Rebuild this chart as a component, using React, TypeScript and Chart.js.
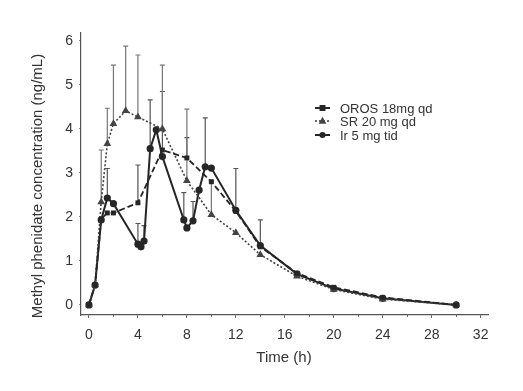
import React, { useEffect, useRef } from "react";
import { Chart, registerables } from "chart.js";

Chart.register(...registerables);

const seriesNames = ["OROS 18mg qd", "SR 20 mg qd", "Ir 5 mg tid"];

const timesOROS = [0, 0.5, 1, 1.5, 2, 4, 6, 8, 10, 12, 14, 17, 20, 24, 30];
const valuesOROS = [0, 0.45, 1.95, 2.09, 2.09, 2.32, 3.52, 3.34, 2.8, 2.13, 1.32, 0.72, 0.4, 0.17, 0.0];
const errTopOROS = [null, null, null, null, null, 3.18, 4.85, 3.8, null, 3.1, null, null, null, null, null];

const timesSR = [0, 0.5, 1, 1.5, 2, 3, 4, 6, 8, 10, 12, 14, 17, 20, 24, 30];
const valuesSR = [0, 0.45, 2.34, 3.66, 4.12, 4.41, 4.27, 4.0, 2.82, 2.05, 1.64, 1.14, 0.65, 0.35, 0.13, 0];
const errTopSR = [null, null, 3.52, 4.47, 5.45, 5.88, 5.68, 5.45, 4.45, 2.8, null, null, null, null, null, null];

const timesIR = [0, 0.5, 1, 1.5, 2, 4, 4.25, 4.5, 5, 5.5, 6, 7.75, 8, 8.5, 9, 9.5, 10, 12, 14, 17, 20, 24, 30];
const valuesIR = [0, 0.45, 1.93, 2.43, 2.3, 1.38, 1.32, 1.45, 3.55, 3.98, 3.37, 1.93, 1.75, 1.91, 2.61, 3.14, 3.11, 2.15, 1.35, 0.7, 0.37, 0.15, 0];
const errTopIR = [null, null, null, 3.1, null, 1.85, null, 1.8, 4.66, null, null, 2.55, null, 2.35, null, 4.25, null, null, 1.93, null, null, null, null];

const xTicks = [0, 4, 8, 12, 16, 20, 24, 28, 32];
const yTicks = [0, 1, 2, 3, 4, 5, 6];
const xTitle = "Time (h)";
const yTitle = "Methyl phenidate concentration (ng/mL)";

const INK = "#262626";
const FONT = "'Liberation Sans', Arial, sans-serif";

const toPoints = (ts: number[], vs: number[]) => ts.map((t, i) => ({ x: t, y: vs[i] }));

const styles = [
  { dash: [6, 3], shape: "rect", radius: 3.5, width: 1.8, color: INK, errColor: "#555" },
  { dash: [2, 2], shape: "triangle", radius: 4.5, width: 1.6, color: "#444", errColor: "#777" },
  { dash: [], shape: "circle", radius: 3.6, width: 2, color: INK, errColor: "#555" },
];
const errTops = [errTopOROS, errTopSR, errTopIR];

function drawMarker(ctx: CanvasRenderingContext2D, shape: string, x: number, y: number, r: number) {
  ctx.beginPath();
  if (shape === "rect") {
    ctx.rect(x - r, y - r, 2 * r, 2 * r);
  } else if (shape === "triangle") {
    ctx.moveTo(x, y - r * 1.1);
    ctx.lineTo(x + r, y + r * 0.7);
    ctx.lineTo(x - r, y + r * 0.7);
    ctx.closePath();
  } else {
    ctx.arc(x, y, r, 0, Math.PI * 2);
  }
  ctx.fill();
}

const customPlugin = {
  id: "custom",
  beforeDatasetsDraw(chart: any) {
    const ctx = chart.ctx as CanvasRenderingContext2D;
    const xs = chart.scales.x;
    const ys = chart.scales.y;
    ctx.save();
    const lists = [timesOROS, timesSR, timesIR];
    const vals = [valuesOROS, valuesSR, valuesIR];
    lists.forEach((ts, si) => {
      const st = styles[si];
      ctx.strokeStyle = st.errColor;
      ctx.lineWidth = 1.2;
      ctx.setLineDash([]);
      ts.forEach((t, i) => {
        const top = errTops[si][i];
        if (top == null) return;
        const px = xs.getPixelForValue(t);
        const p0 = ys.getPixelForValue(vals[si][i]);
        const p1 = ys.getPixelForValue(top);
        ctx.beginPath();
        ctx.moveTo(px, p0);
        ctx.lineTo(px, p1);
        ctx.moveTo(px - 2.5, p1);
        ctx.lineTo(px + 2.5, p1);
        ctx.stroke();
      });
    });
    ctx.restore();
  },
  afterDraw(chart: any) {
    const ctx = chart.ctx as CanvasRenderingContext2D;
    const area = chart.chartArea;
    ctx.save();
    // minor ticks on x axis
    const xs = chart.scales.x;
    ctx.strokeStyle = "#666";
    ctx.lineWidth = 1;
    for (let v = 2; v <= 30; v += 4) {
      const px = Math.round(xs.getPixelForValue(v)) + 0.5;
      ctx.beginPath();
      ctx.moveTo(px, area.bottom);
      ctx.lineTo(px, area.bottom + 2);
      ctx.stroke();
    }
    // titles
    ctx.fillStyle = "#333";
    ctx.font = `15px ${FONT}`;
    ctx.textAlign = "center";
    ctx.textBaseline = "middle";
    ctx.fillText(xTitle, 284, 358);
    ctx.save();
    ctx.translate(38, 186);
    ctx.rotate(-Math.PI / 2);
    ctx.fillText(yTitle, 0, 0);
    ctx.restore();
    // legend
    const lx0 = 315;
    const lx1 = 330;
    const tx = 340;
    const rows = [108, 121, 135];
    ctx.font = `13px ${FONT}`;
    ctx.textAlign = "left";
    rows.forEach((ry, i) => {
      const st = styles[i];
      ctx.strokeStyle = st.color;
      ctx.fillStyle = st.color;
      ctx.lineWidth = st.width;
      ctx.setLineDash(st.dash);
      ctx.beginPath();
      ctx.moveTo(lx0, ry);
      ctx.lineTo(lx1, ry);
      ctx.stroke();
      ctx.setLineDash([]);
      drawMarker(ctx, st.shape, (lx0 + lx1) / 2, ry, st.radius * 0.85);
      ctx.fillStyle = "#333";
      ctx.fillText(seriesNames[i], tx, ry + 1);
    });
    ctx.restore();
  },
};

export default function App() {
  const ref = useRef<HTMLCanvasElement | null>(null);
  useEffect(() => {
    if (!ref.current) return;
    const mk = (i: number, data: any[]) => ({
      label: seriesNames[i],
      data,
      borderColor: styles[i].color,
      backgroundColor: styles[i].color,
      borderWidth: styles[i].width,
      borderDash: styles[i].dash,
      pointStyle: styles[i].shape === "rect" ? "rect" : styles[i].shape === "triangle" ? "triangle" : "circle",
      pointRadius: styles[i].radius,
      pointBorderWidth: 0,
      pointBackgroundColor: styles[i].color,
      tension: 0,
      fill: false,
    });
    const chart = new Chart(ref.current, {
      type: "line",
      data: {
        datasets: [
          mk(0, toPoints(timesOROS, valuesOROS)),
          mk(1, toPoints(timesSR, valuesSR)),
          mk(2, toPoints(timesIR, valuesIR)),
        ],
      },
      options: {
        responsive: false,
        animation: false,
        layout: { padding: { top: 33, right: 35, left: 0, bottom: 0 } },
        plugins: { legend: { display: false }, tooltip: { enabled: false } },
        scales: {
          x: {
            type: "linear",
            min: -0.65,
            max: 32.6,
            afterFit: (s: any) => {
              s.height = 76;
            },
            afterBuildTicks: (s: any) => {
              s.ticks = xTicks.map((v) => ({ value: v }));
            },
            grid: { display: true, drawOnChartArea: false, drawTicks: true, tickLength: 3, color: "#666" },
            border: { display: true, color: "#555", width: 1.2 },
            ticks: { color: "#333", font: { family: FONT, size: 14 }, padding: 9, maxRotation: 0 },
          },
          y: {
            type: "linear",
            min: -0.23,
            max: 6.18,
            afterFit: (s: any) => {
              s.width = 81;
            },
            afterBuildTicks: (s: any) => {
              s.ticks = yTicks.map((v) => ({ value: v }));
            },
            grid: { display: true, drawOnChartArea: false, drawTicks: true, tickLength: 2, color: "#888" },
            border: { display: true, color: "#555", width: 1.2 },
            ticks: { color: "#333", font: { family: FONT, size: 14 }, padding: 6 },
          },
        },
      },
      plugins: [customPlugin],
    });
    return () => chart.destroy();
  }, []);
  return (
    <div style={{ position: "fixed", left: 0, top: 0, width: 523, height: 391, background: "#fff" }}>
      <canvas ref={ref} width={523} height={391} />
    </div>
  );
}
